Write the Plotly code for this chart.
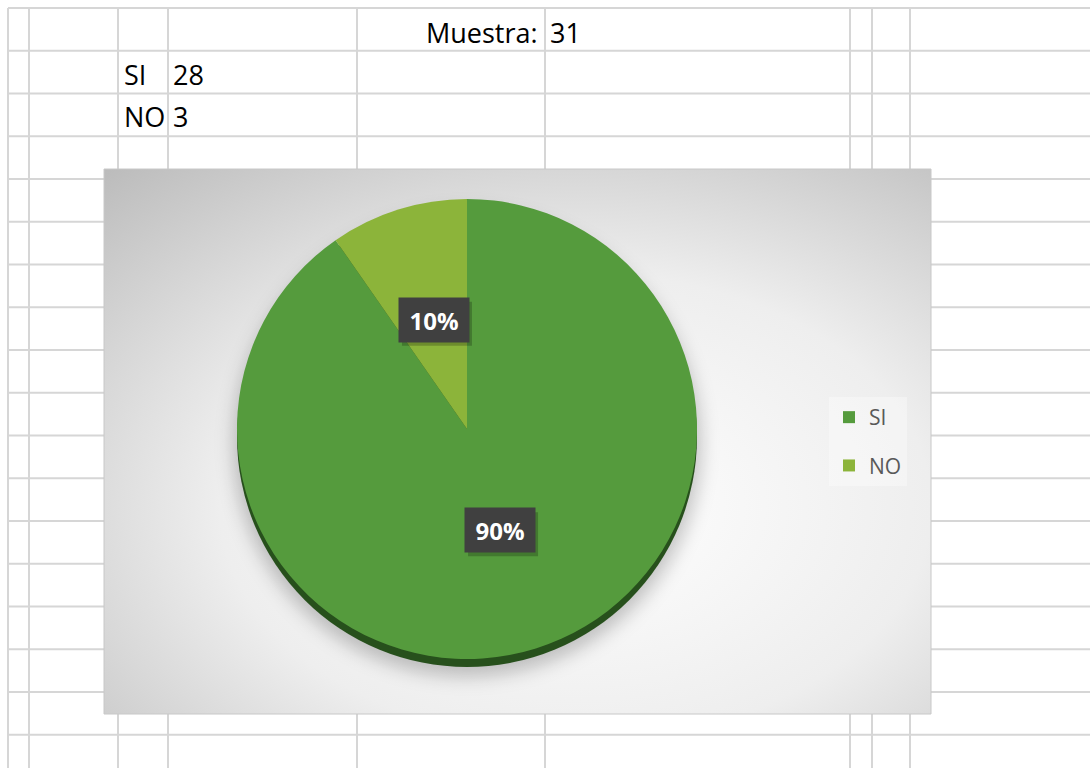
import math
import base64
import plotly.graph_objects as go

# ---------------- data ----------------
labels = ["SI", "NO"]
values = [28, 3]
sample_label = "Muestra:"

# ---------------- styles ----------------
slice_colors = ["#559b3d", "#8cb43a"]
W, H = 1090, 768
FONT = "Open Sans, Lato, sans-serif"
CX, CY, R = 467, 429, 230          # pie centre / radius in px
BX0, BY0, BX1, BY1 = 104, 169, 931, 714   # chart box in px
LW, LH = 70, 44                    # data label box size

total = sum(values)

fig = go.Figure()

# pie
fig.add_trace(go.Pie(
    labels=labels, values=values, sort=False, direction="clockwise", rotation=0,
    marker=dict(colors=slice_colors, line=dict(width=0)),
    textinfo="none", showlegend=False, hoverinfo="label+value+percent",
    domain=dict(x=[(CX - R) / W, (CX + R) / W], y=[1 - (CY + R) / H, 1 - (CY - R) / H]),
))

# legend entries
for lab, col in zip(labels, slice_colors):
    fig.add_trace(go.Scatter(
        x=[None], y=[None], mode="markers", name=lab, legendgroup=lab,
        marker=dict(symbol="square", size=15, color=col), showlegend=True,
    ))

# background gradient + pie shadow as svg image
bw, bh = BX1 - BX0, BY1 - BY0
svg = f"""<svg xmlns='http://www.w3.org/2000/svg' width='{bw}' height='{bh}' viewBox='0 0 {bw} {bh}'>
<defs>
<radialGradient id='g' cx='0.57' cy='0.62' r='0.86'>
<stop offset='0' stop-color='#ffffff'/>
<stop offset='0.5' stop-color='#eeeeee'/>
<stop offset='1' stop-color='#b9b9b9'/>
</radialGradient>
<filter id='b' x='-30%' y='-30%' width='160%' height='160%'><feGaussianBlur stdDeviation='9'/></filter>
</defs>
<rect width='{bw}' height='{bh}' fill='url(#g)'/>
<ellipse cx='{CX-BX0}' cy='{CY-BY0+15}' rx='{R+4}' ry='{R+3}' fill='#000' fill-opacity='0.22' filter='url(#b)'/>
</svg>"""
src = "data:image/svg+xml;base64," + base64.b64encode(svg.encode()).decode()

shapes = []
grid_style = dict(color="#d6d6d6", width=2)
row_y = [8 + 42.75 * k for k in range(18)]
col_x = [8, 29, 118, 168, 357, 545, 850, 872, 910]
for y in row_y:
    segs = [(8, BX0), (BX1, W)] if BY0 <= y <= BY1 else [(8, W)]
    for a, b in segs:
        shapes.append(dict(type="line", xref="x", yref="y", x0=a, x1=b, y0=y, y1=y,
                           line=grid_style, layer="below"))
for x in col_x:
    segs = [(8, BY0), (BY1, H)] if BX0 <= x <= BX1 else [(8, H)]
    for a, b in segs:
        shapes.append(dict(type="line", xref="x", yref="y", x0=x, x1=x, y0=a, y1=b,
                           line=grid_style, layer="below"))
# chart box border
shapes.append(dict(type="rect", xref="x", yref="y", x0=BX0, x1=BX1, y0=BY0, y1=BY1,
                   line=dict(color="#c8c8c8", width=1), fillcolor="rgba(0,0,0,0)", layer="below"))
# pie 3d rim
shapes.append(dict(type="circle", xref="x", yref="y", x0=CX - R, x1=CX + R, y0=CY - R + 8, y1=CY + R + 8,
                   fillcolor="#27501c", line=dict(width=0), layer="below"))

annotations = []
# sheet cells
cell_font = dict(family=FONT, size=27, color="#000000")
annotations.append(dict(x=540, y=32, xref="x", yref="y", text=sample_label, showarrow=False,
                        xanchor="right", yanchor="middle", font=cell_font))
annotations.append(dict(x=548, y=32, xref="x", yref="y", text=str(total), showarrow=False,
                        xanchor="left", yanchor="middle", font=cell_font))
for i, (lab, v) in enumerate(zip(labels, values)):
    yy = 74 + 42.75 * i
    annotations.append(dict(x=122, y=yy, xref="x", yref="y", text=lab, showarrow=False,
                            xanchor="left", yanchor="middle", font=cell_font))
    annotations.append(dict(x=171, y=yy, xref="x", yref="y", text=str(v), showarrow=False,
                            xanchor="left", yanchor="middle", font=cell_font))

# data labels (dark boxes with drop shadow)
LR = 0.48 * R
LCY = CY - 4
cum = 0.0
for v in values:
    frac = v / total
    mid = (cum + frac / 2) * 2 * math.pi
    cum += frac
    lx = CX + LR * math.sin(mid)
    ly = LCY - LR * math.cos(mid)
    txt = f"{round(frac * 100)}%"
    shapes.append(dict(type="rect", xref="x", yref="y",
                       x0=lx - LW / 2 + 3, x1=lx + LW / 2 + 3, y0=ly - LH / 2 + 4, y1=ly + LH / 2 + 4,
                       fillcolor="rgba(0,0,0,0.22)", line=dict(width=0), layer="above"))
    annotations.append(dict(x=lx, y=ly, xref="x", yref="y", text=f"<b>{txt}</b>", showarrow=False,
                            font=dict(family=FONT, size=24, color="#ffffff"),
                            bgcolor="#404040", borderpad=0, width=LW, height=LH))

fig.update_layout(
    width=W, height=H, autosize=False,
    margin=dict(l=0, r=0, t=0, b=0),
    paper_bgcolor="#ffffff", plot_bgcolor="rgba(0,0,0,0)",
    xaxis=dict(range=[0, W], visible=False, fixedrange=True, domain=[0, 1]),
    yaxis=dict(range=[H, 0], visible=False, fixedrange=True, domain=[0, 1]),
    shapes=shapes, annotations=annotations,
    images=[dict(source=src, xref="paper", yref="paper", x=BX0 / W, y=1 - BY0 / H,
                 sizex=bw / W, sizey=bh / H, xanchor="left", yanchor="top",
                 sizing="stretch", layer="below")],
    legend=dict(x=829 / W, y=1 - 397 / H, xanchor="left", yanchor="top",
                bgcolor="rgba(255,255,255,0.35)", font=dict(family=FONT, size=21, color="#595959"),
                tracegroupgap=18, traceorder="grouped", itemsizing="constant"),
    showlegend=True,
)

fig.write_html("out.html", config={"displayModeBar": False},
               post_script="document.body.style.margin='0';document.body.style.overflow='hidden';")
